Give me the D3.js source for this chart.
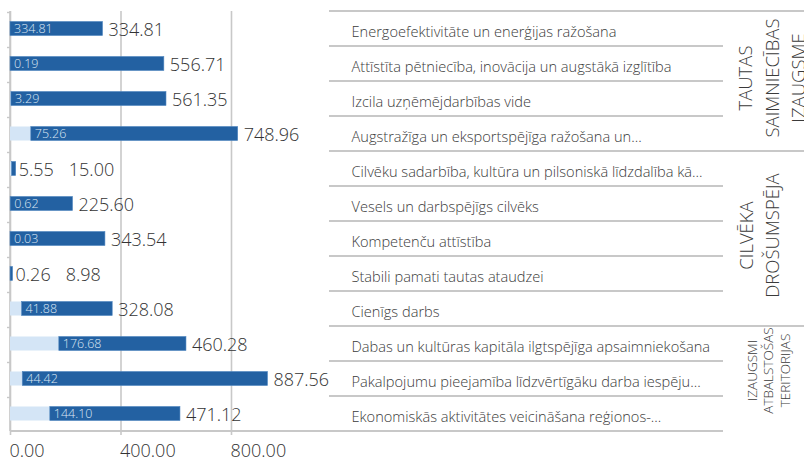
<!DOCTYPE html>
<html>
<head>
<meta charset="utf-8">
<script src="https://cdn.jsdelivr.net/npm/d3@7/dist/d3.min.js"></script>
<style>
  body { margin: 0; background: #fff; }
  text { font-family: "Segoe UI", "Open Sans", sans-serif; }
</style>
</head>
<body>
<div id="chart"></div>
<script>
// Data
var categories = [
    'Energoefektivitāte un enerģijas ražošana',
    'Attīstīta pētniecība, inovācija un augstākā izglītība',
    'Izcila uzņēmējdarbības vide',
    'Augstražīga un eksportspējīga ražošana un...',
    'Cilvēku sadarbība, kultūra un pilsoniskā līdzdalība kā...',
    'Vesels un darbspējīgs cilvēks',
    'Kompetenču attīstība',
    'Stabili pamati tautas ataudzei',
    'Cienīgs darbs',
    'Dabas un kultūras kapitāla ilgtspējīga apsaimniekošana',
    'Pakalpojumu pieejamība līdzvērtīgāku darba iespēju...',
    'Ekonomiskās aktivitātes veicināšana reģionos-...'
];
var baseValues = [0, 0.19, 3.29, 75.26, 5.55, 0.62, 0.03, 0.26, 41.88, 176.68, 44.42, 144.10];
var baseLabels = ['334.81', '0.19', '3.29', '75.26', '5.55', '0.62', '0.03', '0.26', '41.88', '176.68', '44.42', '144.10'];
var gainValues = [334.81, 556.71, 561.35, 748.96, 15.00, 225.60, 343.54, 8.98, 328.08, 460.28, 887.56, 471.12];
var groupNames = [
    ['TAUTAS', 'SAIMNIECĪBAS', 'IZAUGSME'],
    ['CILVĒKA', 'DROŠUMSPĒJA'],
    ['IZAUGSMI', 'ATBALSTOŠAS', 'TERITORIJAS']
];
var groupSizes = [4, 5, 3];
var xTicks = [0, 400, 800];

var svgWidth = 804;
var svgHeight = 460;
var chartTop = 11, chartBottom = 431;
var tableLeft = 329, tableRight = 723;

var darkBlue = '#2361a2';
var lightBlue = '#d4e5f6';
var lineGrey = '#c8c8c8';
var fmt = d3.format('.2f');

var svg = d3.select('#chart')
    .append('svg')
    .attr('width', svgWidth)
    .attr('height', svgHeight);

var x = d3.scaleLinear()
    .domain([0, 800])
    .range([10, 231]);

// one band per table row, and a narrower band for the bars
var rows = d3.scaleBand()
    .domain(d3.range(categories.length))
    .range([chartTop, chartBottom]);

var y = d3.scaleBand()
    .domain(d3.range(categories.length))
    .range([chartTop, chartBottom])
    .paddingInner(0.6)
    .paddingOuter(0.3);

// Gridlines (drawn down a little past the axis as ticks)
var grid = svg.append('g')
    .attr('transform', `translate(0,${chartTop})`)
    .call(d3.axisTop(x).tickValues(xTicks).tickSize(-(chartBottom - chartTop + 4)).tickFormat(''));
grid.select('.domain').remove();
grid.selectAll('line').attr('stroke', lineGrey).attr('stroke-width', 1.6);

// x tick labels
var xAxis = svg.append('g')
    .attr('transform', `translate(0,${chartBottom})`)
    .call(d3.axisBottom(x).tickValues(xTicks).tickSize(0).tickFormat(fmt));
xAxis.select('.domain').remove();
xAxis.selectAll('text')
    .attr('y', 25.5)
    .attr('dy', null)
    .attr('dx', -1)
    .attr('text-anchor', 'start')
    .attr('fill', '#333')
    .style('font-size', '18px')
    .style('font-weight', 300);

// left axis line with ticks at row edges
svg.append('line')
    .attr('x1', x(0)).attr('x2', x(0))
    .attr('y1', chartTop).attr('y2', chartBottom)
    .attr('stroke', lineGrey).attr('stroke-width', 1.6);

svg.selectAll('.edgeTick')
    .data(d3.range(categories.length))
    .enter()
    .append('line')
    .attr('x1', x(0) - 3).attr('x2', x(0))
    .attr('y1', d => rows(d) + 1.5).attr('y2', d => rows(d) + 1.5)
    .attr('stroke', lineGrey).attr('stroke-width', 1.4);

// Bars
svg.selectAll('.baseBar')
    .data(categories)
    .enter()
    .append('rect')
    .attr('x', x(0))
    .attr('y', (d, i) => y(i))
    .attr('width', (d, i) => x(baseValues[i]) - x(0))
    .attr('height', y.bandwidth())
    .attr('fill', lightBlue);

svg.selectAll('.gainBar')
    .data(categories)
    .enter()
    .append('rect')
    .attr('x', (d, i) => x(baseValues[i]))
    .attr('y', (d, i) => y(i))
    .attr('width', (d, i) => x(baseValues[i] + gainValues[i]) - x(baseValues[i]))
    .attr('height', y.bandwidth())
    .attr('fill', darkBlue)
    .attr('stroke', '#4f86c0')
    .attr('stroke-width', 0.6);

// Labels: small one inside the dark bar, total-ish one after it
categories.forEach(function(c, i) {
    var cy = y(i) + y.bandwidth() / 2;
    var start = x(baseValues[i]);
    var end = x(baseValues[i] + gainValues[i]);

    var inner = svg.append('text')
        .attr('x', start + 4)
        .attr('y', cy + 4.5)
        .attr('fill', '#dbe6f3')
        .style('font-size', '12.5px')
        .style('font-weight', 300)
        .text(baseLabels[i]);

    var w = inner.node().getComputedTextLength();
    var nextX = end + 6;
    if (w + 8 > end - start) {
        // does not fit: put it outside, in the large style
        inner.attr('x', end + 3)
            .attr('y', cy + 7)
            .attr('fill', '#333')
            .style('font-size', '18px');
        nextX = end + 3 + inner.node().getComputedTextLength() + 15;
    }

    svg.append('text')
        .attr('x', nextX)
        .attr('y', cy + 7)
        .attr('fill', '#333')
        .style('font-size', '18px')
        .style('font-weight', 300)
        .text(fmt(gainValues[i]));
});

// Table on the right
svg.selectAll('.catLabel')
    .data(categories)
    .enter()
    .append('text')
    .attr('x', tableLeft + 22.5)
    .attr('y', (d, i) => rows(i) + rows.bandwidth() / 2 + 8)
    .attr('fill', '#3a3a3a')
    .style('font-size', '14.6px')
    .style('font-weight', 300)
    .text(d => d);

var groupEdges = [0];
groupSizes.forEach(function(n, g) { groupEdges.push(groupEdges[g] + n); });

d3.range(categories.length).forEach(function(i) {
    var isGroupEdge = groupEdges.indexOf(i) >= 0;
    svg.append('line')
        .attr('x1', tableLeft)
        .attr('x2', isGroupEdge ? svgWidth : tableRight)
        .attr('y1', rows(i)).attr('y2', rows(i))
        .attr('stroke', lineGrey).attr('stroke-width', 2);
});

// bottom line: x axis and table border together
svg.append('line')
    .attr('x1', x(0)).attr('x2', tableRight)
    .attr('y1', chartBottom).attr('y2', chartBottom)
    .attr('stroke', lineGrey).attr('stroke-width', 2);

// Group labels, rotated
var groupFont = [18.5, 18.5, 13.5];
var groupLead = [26.5, 25.5, 16.5];
var groupFirstX = [745.5, 746.5, 752];
groupNames.forEach(function(lines, g) {
    var y0 = rows(groupEdges[g]);
    var y1 = groupEdges[g + 1] < categories.length ? rows(groupEdges[g + 1]) : chartBottom;
    var cy = (y0 + y1) / 2 - (g === 2 ? 8 : 3);
    lines.forEach(function(t, k) {
        var cx = groupFirstX[g] + k * groupLead[g] + groupFont[g] * 0.36;
        svg.append('text')
            .attr('transform', `translate(${cx},${cy}) rotate(-90)`)
            .attr('text-anchor', 'middle')
            .attr('fill', '#3a3a3a')
            .style('font-size', groupFont[g] + 'px')
            .style('font-weight', 300)
            .text(t);
    });
});
</script>
</body>
</html>
